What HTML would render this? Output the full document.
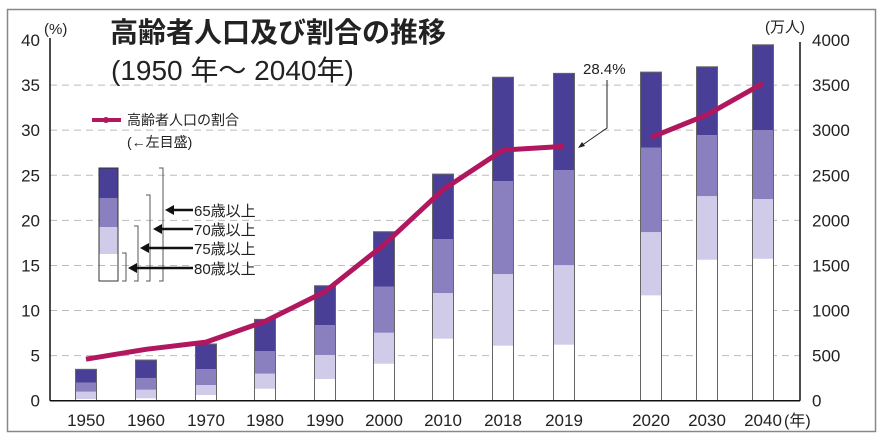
<!DOCTYPE html>
<html><head><meta charset="utf-8"><style>
body{margin:0;background:#fff;}
svg text{font-family:"Liberation Sans","Noto Sans CJK JP",sans-serif;fill:#222;}
</style></head><body>
<svg id="chart" width="883" height="436" viewBox="0 0 883 436" xmlns="http://www.w3.org/2000/svg">
<rect x="7.5" y="9.5" width="868" height="422" fill="#fff" stroke="#888" stroke-width="1.5"/>
<g id="grid"></g>
<g id="bars"></g>
<g id="lines"></g>
<g id="axes"></g>
<text x="110" y="42" font-size="28" font-weight="bold">高齢者人口及び割合の推移</text>
<text x="111" y="80" font-size="28">(1950 年～ 2040年)</text>
<text x="44" y="34" font-size="15">(%)</text>
<text x="765" y="32" font-size="15">(万人)</text>
<text x="784" y="426" font-size="16">(年)</text>
<g>
<line x1="92" y1="120" x2="121" y2="120" stroke="#b0175f" stroke-width="4"/>
<circle cx="106" cy="120" r="3" fill="#b0175f"/>
<text x="127" y="125" font-size="14">高齢者人口の割合</text>
<text x="127" y="147" font-size="14">(←左目盛)</text>
<rect x="99" y="168" width="19" height="30" fill="#4a3f96"/>
<rect x="99" y="198" width="19" height="29" fill="#8b80bf"/>
<rect x="99" y="227" width="19" height="27" fill="#d0cbe8"/>
<rect x="99" y="168" width="19" height="113" fill="none" stroke="#333" stroke-width="1"/>
<path d="M122 253h4v28h-4M134 226h4v55h-4M146 195h4v86h-4M159 168h4v113h-4" fill="none" stroke="#555" stroke-width="1"/>
<path d="M193 210H170M193 229H157M193 248H144M193 268H132" stroke="#111" stroke-width="2.5"/>
<path d="M165 210l9-5v10zM153 229l9-5v10zM140 248l9-5v10zM128 268l9-5v10z" fill="#111"/>
<text x="194" y="216" font-size="15">65歳以上</text>
<text x="194" y="235" font-size="15">70歳以上</text>
<text x="194" y="254" font-size="15">75歳以上</text>
<text x="194" y="274" font-size="15">80歳以上</text>
</g>
<g>
<text x="583" y="74" font-size="15">28.4%</text>
<path d="M607 80V128L581 146" fill="none" stroke="#222" stroke-width="1"/>
<path d="M578 148l7-2-3-4z" fill="#222"/>
</g>
<script>
const years=["1950","1960","1970","1980","1990","2000","2010","2018","2019","2020","2030","2040"];
const pop80=[19,27,63,133,241,410,688,610,621,1168,1563,1574];
const pop75=[100,122,174,300,507,754,1194,1405,1504,1870,2269,2236];
const pop70=[200,252,351,551,839,1264,1793,2436,2558,2805,2946,3001];
const pop65=[348,451,629,902,1275,1874,2513,3587,3630,3644,3703,3947];
const ratioActual=[4.6,5.7,6.5,8.8,12.1,17.3,23.4,27.8,28.2];
const ratioProj=[29.2,31.7,35.2];
const leftTicks=[0,5,10,15,20,25,30,35,40];
const rightTicks=[0,500,1000,1500,2000,2500,3000,3500,4000];
const slotX=[86,146,206,265,325,384,443,503,564,651,707,763];
const NS="http://www.w3.org/2000/svg";
const yBase=400.7, yTop=40;
function yPct(v){return yBase-(v/40)*(yBase-yTop);}
function yPop(v){return yBase-(v/4000)*(yBase-yTop);}
function xCat(i){return slotX[i];}
function mk(tag,attrs,parent){const e=document.createElementNS(NS,tag);for(const k in attrs)e.setAttribute(k,attrs[k]);parent.appendChild(e);return e;}
const grid=document.getElementById('grid'),bars=document.getElementById('bars'),lines=document.getElementById('lines'),axes=document.getElementById('axes');
leftTicks.forEach((t,i)=>{
  const y=yPct(t);
  if(t>0&&t<40){const g=mk('line',{x1:50,x2:800,y1:y,y2:y,stroke:'#bbb','stroke-dasharray':'7,5','stroke-width':1},grid);
  
  }
  const tx=mk('text',{x:40,y:y+6,'font-size':17,'text-anchor':'end'},axes);tx.textContent=t;
  
  
});
rightTicks.forEach(t=>{
  const y=yPop(t);
  const tx=mk('text',{x:812,y:y+6,'font-size':17},axes);tx.textContent=t;
  
  
});
const layers=[[0,pop80,'#ffffff'],[pop80,pop75,'#d0cbe8'],[pop75,pop70,'#8b80bf'],[pop70,pop65,'#4a3f96']];
years.forEach((yr,i)=>{
  const x=xCat(i)-10.5,w=21;
  layers.forEach(([lo,hi,c])=>{
    const l=lo===0?0:lo[i];
    const r=mk('rect',{x:x,y:yPop(hi[i]),width:w,height:yPop(l)-yPop(hi[i]),fill:c},bars);
    
    
  });
  const o=mk('rect',{x:x,y:yPop(pop65[i]),width:w,height:yBase-yPop(pop65[i]),fill:'none',stroke:'#666','stroke-width':1},bars);
  
  
  const tx=mk('text',{x:xCat(i),y:426,'font-size':17,'text-anchor':'middle'},axes);tx.textContent=yr;
  
  
});
const p1=ratioActual.map((v,i)=>xCat(i)+','+yPct(v)).join(' ');
const l1=mk('polyline',{points:p1,fill:'none',stroke:'#b0175f','stroke-width':5,'stroke-linejoin':'round'},lines);


const p2=ratioProj.map((v,i)=>xCat(i+9)+','+yPct(v)).join(' ');
const l2=mk('polyline',{points:p2,fill:'none',stroke:'#b0175f','stroke-width':5,'stroke-linejoin':'round'},lines);


const a1=mk('line',{x1:50,x2:50,y1:38,y2:yBase,stroke:'#111','stroke-width':1.5},axes);


const a2=mk('line',{x1:800,x2:800,y1:42,y2:yBase,stroke:'#111','stroke-width':1.5},axes);


const a3=mk('line',{x1:50,x2:800,y1:yBase,y2:yBase,stroke:'#111','stroke-width':1.5},axes);


</script>
</svg>
</body></html>
